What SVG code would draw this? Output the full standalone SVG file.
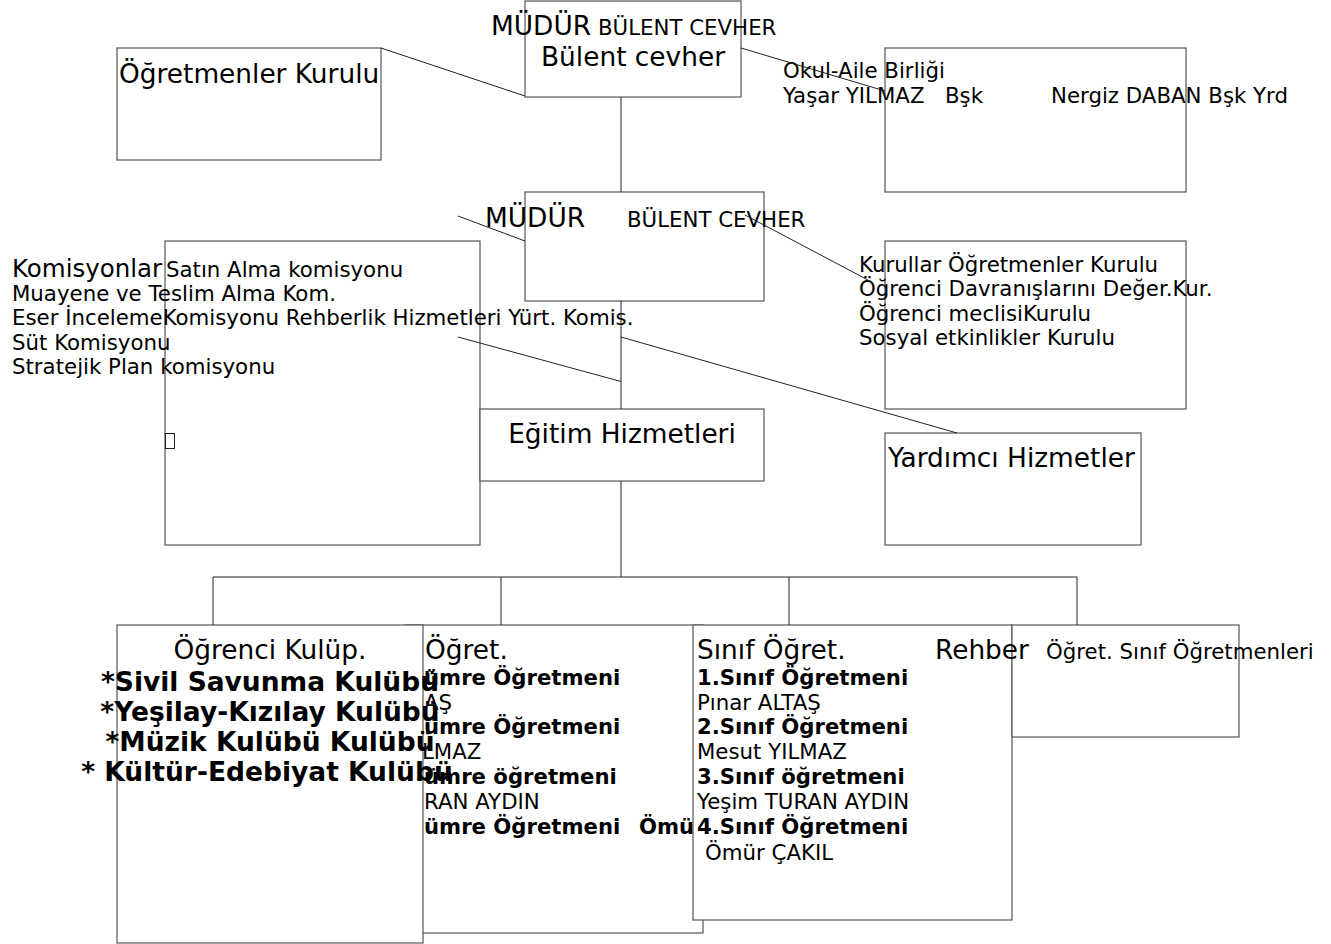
<svg xmlns="http://www.w3.org/2000/svg" width="1331" height="944" viewBox="0 0 1331 944">
<style>
.box{fill:#fff;stroke:#555;stroke-width:1.2}
.ln{fill:none;stroke:#222;stroke-width:1}
text{font-family:"DejaVu Sans","Noto Sans",sans-serif;fill:#000}
.t26{font-size:26.4px}
.t24{font-size:24.5px}
.t21{font-size:21.3px}
.b21{font-size:21.2px;font-weight:bold}
.b26{font-size:26.5px;font-weight:bold}
.mid{text-anchor:middle}
</style>
<rect width="1331" height="944" fill="#fff"/>

<g id="mudur-top">
<rect class="box" x="525" y="1" width="216" height="96"/>
<text x="491" y="34.5"><tspan class="t26">MÜDÜR</tspan> <tspan class="t21" x="598">BÜLENT CEVHER</tspan></text>
<text class="t26" x="541" y="65.5">Bülent cevher</text>
</g>

<g id="ogretmenler-kurulu">
<rect class="box" x="117" y="48" width="264" height="112"/>
<text class="t26" x="119" y="83">Öğretmenler Kurulu</text>
</g>

<g id="okul-aile">
<rect class="box" x="885" y="48" width="301" height="144"/>
<text class="t21" x="783" y="77.5">Okul-Aile Birliği</text>
<text class="t21" y="103"><tspan x="783">Yaşar YILMAZ</tspan> <tspan x="945">Bşk</tspan> <tspan x="1051">Nergiz DABAN Bşk Yrd</tspan></text>
</g>

<g id="mudur-2">
<rect class="box" x="525" y="192" width="239" height="109"/>
<text y="227"><tspan class="t26" x="485">MÜDÜR</tspan> <tspan class="t21" x="627">BÜLENT CEVHER</tspan></text>
</g>

<g id="komisyonlar">
<rect class="box" x="165" y="241" width="315" height="304"/>
<text x="12" y="276.5"><tspan class="t24">Komisyonlar</tspan><tspan class="t21" x="166">Satın Alma komisyonu</tspan></text>
<text class="t21" x="12" y="300.5">Muayene ve Teslim Alma Kom.</text>
<text class="t21" x="12" y="325">Eser İncelemeKomisyonu Rehberlik Hizmetleri Yürt. Komis.</text>
<text class="t21" x="12" y="349.5">Süt Komisyonu</text>
<text class="t21" x="12" y="374">Stratejik Plan komisyonu</text>
<rect x="165.5" y="433.5" width="9" height="15" fill="none" stroke="#222" stroke-width="1"/>
</g>

<g id="kurullar">
<rect class="box" x="885" y="241" width="301" height="168"/>
<text class="t21" x="859" y="271.5">Kurullar Öğretmenler Kurulu</text>
<text class="t21" x="859" y="296">Öğrenci Davranışlarını Değer.Kur.</text>
<text class="t21" x="859" y="320.5">Öğrenci meclisiKurulu</text>
<text class="t21" x="859" y="345">Sosyal etkinlikler Kurulu</text>
</g>

<g id="egitim-hizmetleri">
<rect class="box" x="480" y="409" width="284" height="72"/>
<text class="t26 mid" x="622" y="442.5">Eğitim Hizmetleri</text>
</g>

<g id="yardimci-hizmetler">
<rect class="box" x="885" y="433" width="256" height="112"/>
<text class="t26" x="888" y="466.5">Yardımcı Hizmetler</text>
</g>

<g id="zumre">
<rect class="box" x="405" y="625" width="298" height="308"/>
<text class="t26" x="425" y="658.5">Öğret.</text>
<text class="b21" x="424" y="684.5">ümre Öğretmeni</text>
<text class="t21" x="424" y="709.5">AŞ</text>
<text class="b21" x="424" y="734">ümre Öğretmeni</text>
<text class="t21" x="422" y="759">LMAZ</text>
<text class="b21" x="424" y="783.5">ümre öğretmeni</text>
<text class="t21" x="424" y="808.5">RAN AYDIN</text>
<text class="b21" y="833.5"><tspan x="424">ümre Öğretmeni</tspan> <tspan x="639">Ömü</tspan></text>
</g>

<g id="ogrenci-kulup">
<rect class="box" x="117" y="625" width="306" height="318"/>
<text class="t26 mid" x="270" y="658.5">Öğrenci Kulüp.</text>
<text class="b26 mid" x="270" y="690.5">*Sivil Savunma Kulübü</text>
<text class="b26 mid" x="270" y="720.5">*Yeşilay-Kızılay Kulübü</text>
<text class="b26 mid" x="270" y="750.5">*Müzik Kulübü Kulübü</text>
<text class="b26 mid" x="267" y="781">* Kültür-Edebiyat Kulübü</text>
</g>

<g id="sinif-ogret">
<rect class="box" x="693" y="625" width="319" height="295"/>
<text class="t26" x="697" y="658.5">Sınıf Öğret.</text>
<text class="b21" x="697" y="684.5">1.Sınıf Öğretmeni</text>
<text class="t21" x="697" y="709.5">Pınar ALTAŞ</text>
<text class="b21" x="697" y="734">2.Sınıf Öğretmeni</text>
<text class="t21" x="697" y="759">Mesut YILMAZ</text>
<text class="b21" x="697" y="783.5">3.Sınıf öğretmeni</text>
<text class="t21" x="697" y="808.5">Yeşim TURAN AYDIN</text>
<text class="b21" x="697" y="833.5">4.Sınıf Öğretmeni</text>
<text class="t21" x="705" y="859.5">Ömür ÇAKIL</text>
</g>

<g id="rehber">
<rect class="box" x="1012" y="625" width="227" height="112"/>
<text y="658.5"><tspan class="t26" x="935">Rehber</tspan> <tspan class="t21" x="1046">Öğret. Sınıf Öğretmenleri</tspan></text>
</g>

<g id="connectors">
<line class="ln" x1="381" y1="48" x2="525" y2="96"/>
<line class="ln" x1="741" y1="48" x2="885" y2="91"/>
<line class="ln" x1="621" y1="97" x2="621" y2="192"/>
<line class="ln" x1="458" y1="216" x2="525" y2="241"/>
<line class="ln" x1="745" y1="215" x2="868" y2="280"/>
<line class="ln" x1="621" y1="301" x2="621" y2="409"/>
<line class="ln" x1="458" y1="337" x2="621" y2="381.5"/>
<line class="ln" x1="621" y1="337" x2="957" y2="433"/>
<line class="ln" x1="621" y1="481" x2="621" y2="577"/>
<polyline class="ln" points="213,625 213,577 1077,577 1077,625"/>
<line class="ln" x1="501" y1="577" x2="501" y2="625"/>
<line class="ln" x1="789" y1="577" x2="789" y2="625"/>
</g>
</svg>
